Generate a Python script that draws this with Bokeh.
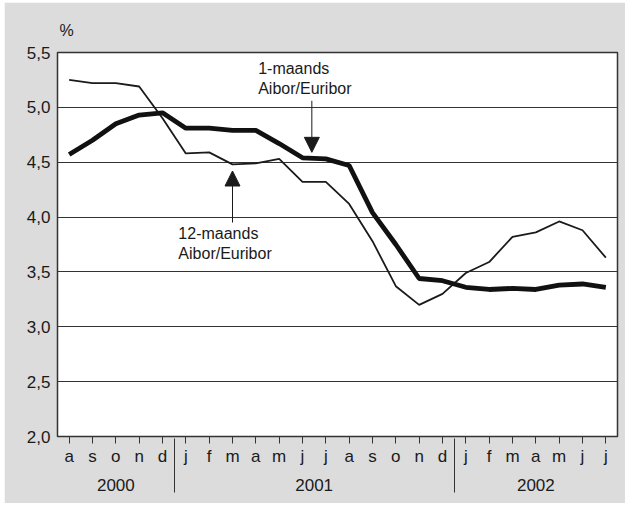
from bokeh.plotting import figure
from bokeh.models import FixedTicker, LinearAxis, Range1d, Label, Arrow, NormalHead
from bokeh.embed import file_html
from bokeh.resources import INLINE

# ---- data ----
months = ["a", "s", "o", "n", "d",
          "j", "f", "m", "a", "m", "j", "j", "a", "s", "o", "n", "d",
          "j", "f", "m", "a", "m", "j", "j"]
years = ["2000", "2001", "2002"]
months_per_year = [5, 12, 7]
one_month = [4.57, 4.70, 4.85, 4.93, 4.95,
             4.81, 4.81, 4.79, 4.79, 4.67, 4.54, 4.53, 4.47, 4.04, 3.75, 3.44, 3.42,
             3.36, 3.34, 3.35, 3.34, 3.38, 3.39, 3.36]
twelve_month = [5.25, 5.22, 5.22, 5.19, 4.90,
                4.58, 4.59, 4.48, 4.49, 4.53, 4.32, 4.32, 4.12, 3.78, 3.37, 3.20, 3.30,
                3.49, 3.59, 3.82, 3.86, 3.96, 3.88, 3.63]
y_ticks = [2.0, 2.5, 3.0, 3.5, 4.0, 4.5, 5.0, 5.5]
y_tick_labels = ["2,0", "2,5", "3,0", "3,5", "4,0", "4,5", "5,0", "5,5"]
unit_label = "%"

FONT = "Liberation Sans"
INK = "#1a1a1a"
BG = "#dcdcdc"

idx = list(range(len(months)))
starts = []
s = 0
for n in months_per_year:
    starts.append(s)
    s += n
year_centers = [st + (n - 1) / 2 for st, n in zip(starts, months_per_year)]
separators = [st - 0.5 for st in starts[1:]]

x_lo, x_hi = -0.5, len(months) - 0.5
y_lo, y_hi = y_ticks[0], y_ticks[-1]

p = figure(width=621, height=501,
           x_range=Range1d(x_lo, x_hi), y_range=Range1d(y_lo, y_hi),
           output_backend="svg", toolbar_location=None,
           min_border_left=53, min_border_right=8, min_border_top=50, min_border_bottom=67,
           background_fill_color="white", border_fill_color=BG,
           styles={"margin-left": "4px", "margin-top": "2px"})
p.outline_line_color = "#333333"
p.outline_line_width = 1.5

# unit label "%" as a left-aligned title
p.title.text = unit_label
p.title.align = "left"
p.title.vertical_align = "top"
p.title.offset = 2
p.title.standoff = 23
p.title.text_font = FONT
p.title.text_font_size = "16px"
p.title.text_font_style = "normal"
p.title.text_color = INK

# x axis (months)
xa = p.xaxis[0]
xa.ticker = FixedTicker(ticks=idx)
xa.major_label_overrides = {i: m for i, m in zip(idx, months)}
xa.major_tick_out = 7
xa.major_tick_in = 0
xa.minor_tick_out = 0
xa.minor_tick_in = 0
xa.major_tick_line_color = "#333333"
xa.minor_tick_line_color = None
xa.axis_line_color = None
xa.major_label_standoff = 3
xa.major_label_text_font = FONT
xa.major_label_text_font_size = "17px"
xa.major_label_text_color = INK

# year axis, with year separators as minor ticks
ya2 = LinearAxis(ticker=FixedTicker(ticks=year_centers, minor_ticks=separators),
                 major_label_overrides={c: y for c, y in zip(year_centers, years)})
ya2.major_tick_out = 0
ya2.major_tick_in = 0
ya2.minor_tick_in = 30
ya2.minor_tick_out = 24
ya2.minor_tick_line_color = "#333333"
ya2.axis_line_color = None
ya2.major_tick_line_color = None
ya2.major_label_standoff = -14
ya2.major_label_text_font = FONT
ya2.major_label_text_font_size = "17px"
ya2.major_label_text_color = INK
p.add_layout(ya2, "below")

# y axis
ya = p.yaxis[0]
ya.ticker = FixedTicker(ticks=y_ticks)
ya.major_label_overrides = {t: l for t, l in zip(y_ticks, y_tick_labels)}
ya.major_tick_out = 0
ya.major_tick_in = 0
ya.minor_tick_line_color = None
ya.axis_line_color = None
ya.major_label_standoff = 7
ya.major_label_text_font = FONT
ya.major_label_text_font_size = "17px"
ya.major_label_text_color = INK

p.xgrid.visible = False
p.ygrid.grid_line_color = "#333333"
p.ygrid.grid_line_width = 1

# series
p.line(idx, twelve_month, line_color=INK, line_width=1.8)
p.line(idx, one_month, line_color="#111111", line_width=4.8)

# annotations
def add_text(x, y, txt):
    p.add_layout(Label(x=x, y=y, text=txt, text_align="left", text_baseline="middle",
                       text_font=FONT, text_font_size="16px", text_color=INK))

add_text(8.1, 5.355, "1-maands")
add_text(8.1, 5.17, "Aibor/Euribor")
add_text(4.68, 3.85, "12-maands")
add_text(4.68, 3.67, "Aibor/Euribor")

p.add_layout(Arrow(x_start=10.4, y_start=5.06, x_end=10.4, y_end=4.59,
                   line_color=INK, line_width=1,
                   end=NormalHead(size=15, fill_color=INK, line_color=INK)))
p.add_layout(Arrow(x_start=7.0, y_start=3.95, x_end=7.0, y_end=4.42,
                   line_color=INK, line_width=1,
                   end=NormalHead(size=15, fill_color=INK, line_color=INK)))

open("out.html", "w").write(file_html(p, INLINE))
